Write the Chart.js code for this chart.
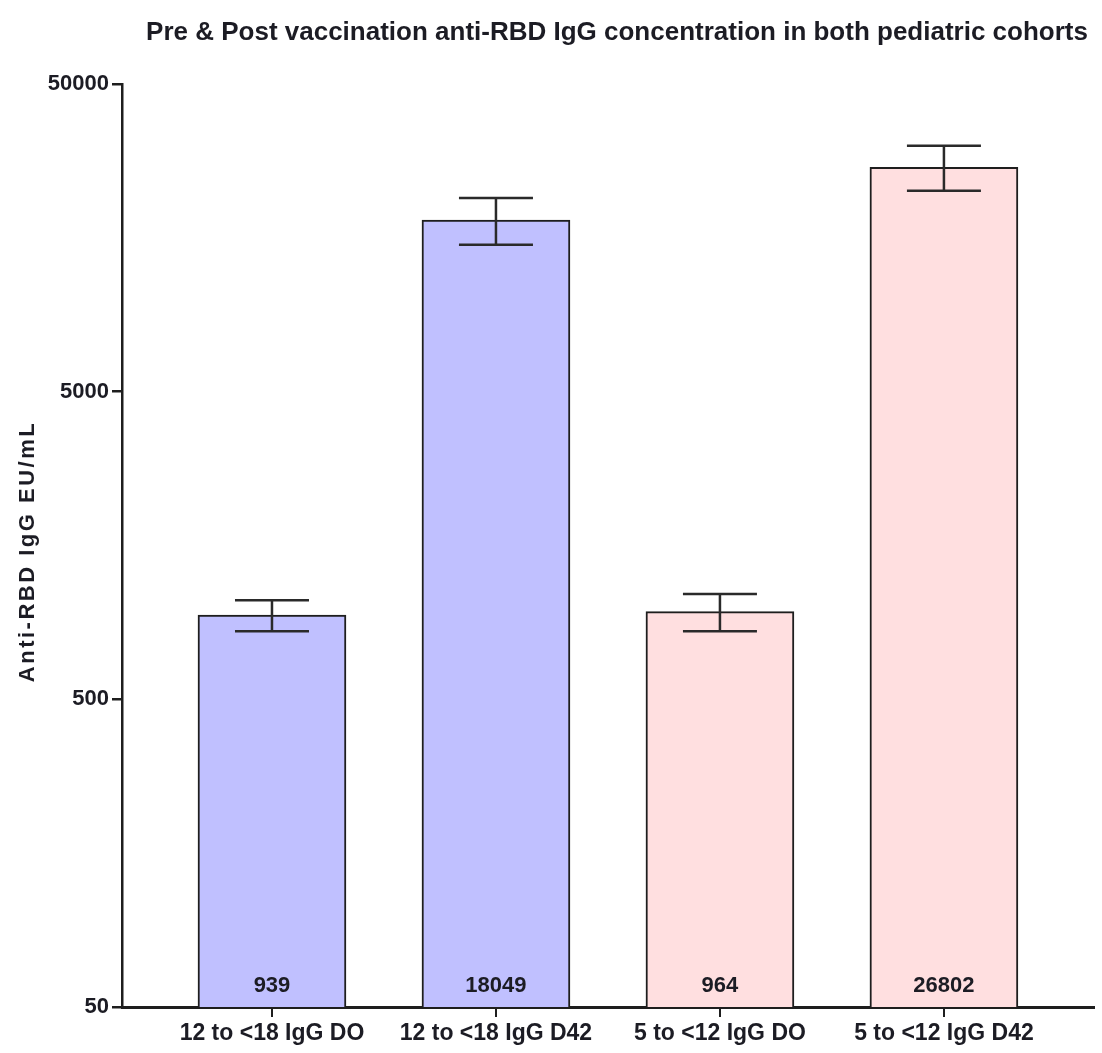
<!DOCTYPE html>
<html>
<head>
<meta charset="utf-8">
<script src="https://cdn.jsdelivr.net/npm/chart.js@4/dist/chart.umd.min.js"></script>
<style>
  html, body { margin: 0; padding: 0; background: #ffffff; }
  #wrap { width: 1102px; height: 1053px; position: relative; }
</style>
</head>
<body>
<div id="wrap"><canvas id="c"></canvas></div>
<script>
const chartTitle = 'Pre & Post vaccination anti-RBD IgG concentration in both pediatric cohorts';
const yAxisTitle = 'Anti-RBD IgG EU/mL';
const categories = ['12 to <18 IgG DO', '12 to <18 IgG D42', '5 to <12 IgG DO', '5 to <12 IgG D42'];
const values = [939, 18049, 964, 26802];
const errLow = [832, 15000, 832, 22500];
const errHigh = [1050, 21300, 1100, 31500];
const yTicks = [50, 500, 5000, 50000];
const barColors = ['#c0c0ff', '#c0c0ff', '#ffdfe0', '#ffdfe0'];

const FONT = "'Liberation Sans', Arial, sans-serif";
const INK = '#1c1c24';

const extras = {
  id: 'extras',
  afterDatasetsDraw(chart) {
    const ctx = chart.ctx;
    const y = chart.scales.y;
    const meta = chart.getDatasetMeta(0);
    ctx.save();
    meta.data.forEach((bar, i) => {
      const x = bar.x;
      const yl = y.getPixelForValue(errLow[i]);
      const yh = y.getPixelForValue(errHigh[i]);
      ctx.strokeStyle = '#2a2a2a';
      ctx.lineWidth = 2.5;
      ctx.beginPath();
      ctx.moveTo(x, yl); ctx.lineTo(x, yh);
      ctx.moveTo(x - 37, yh); ctx.lineTo(x + 37, yh);
      ctx.moveTo(x - 37, yl); ctx.lineTo(x + 37, yl);
      ctx.stroke();
      ctx.fillStyle = INK;
      ctx.font = 'bold 22px ' + FONT;
      ctx.textAlign = 'center';
      ctx.textBaseline = 'middle';
      ctx.fillText(String(values[i]), x, y.getPixelForValue(yTicks[0]) - 21);
    });
    ctx.restore();
  },
  afterDraw(chart) {
    const ctx = chart.ctx;
    const area = chart.chartArea;
    ctx.save();
    ctx.fillStyle = INK;
    ctx.font = 'bold 26px ' + FONT;
    ctx.textAlign = 'center';
    ctx.textBaseline = 'middle';
    ctx.fillText(chartTitle, 617, 33);
    ctx.translate(28, (area.top + area.bottom) / 2 + 6);
    ctx.rotate(-Math.PI / 2);
    ctx.font = 'bold 22px ' + FONT;
    try { ctx.letterSpacing = '2.5px'; } catch (e) {}
    ctx.fillText(yAxisTitle, 0, 0);
    ctx.restore();
  }
};

new Chart(document.getElementById('c'), {
  type: 'bar',
  data: {
    datasets: [{
      data: categories.map((c, i) => ({ x: i + 1, y: values[i] })),
      backgroundColor: barColors,
      borderColor: '#1e1e1e',
      borderWidth: 2,
      barThickness: 148
    }]
  },
  options: {
    responsive: true,
    maintainAspectRatio: false,
    animation: false,
    devicePixelRatio: 1,
    layout: { padding: { top: 84, right: 8, left: 0, bottom: 0 } },
    plugins: { legend: { display: false }, tooltip: { enabled: false }, title: { display: false } },
    scales: {
      x: {
        type: 'linear',
        min: 0.3304,
        max: 4.67,
        offset: false,
        afterBuildTicks(scale) { scale.ticks = categories.map((c, i) => ({ value: i + 1 })); },
        afterFit(scale) { scale.height = 46; },
        ticks: {
          autoSkip: false,
          maxRotation: 0,
          padding: 3,
          color: INK,
          font: { family: FONT, size: 23, weight: 'bold' },
          callback: (v) => categories[v - 1]
        },
        grid: { offset: false, drawOnChartArea: false, tickLength: 10, color: '#1e1e1e', lineWidth: 2 },
        border: { color: '#1e1e1e', width: 3 }
      },
      y: {
        type: 'logarithmic',
        min: 50,
        max: 50000,
        afterBuildTicks(scale) { scale.ticks = yTicks.map(v => ({ value: v })); },
        afterFit(scale) { scale.width = 122; },
        ticks: {
          color: INK,
          padding: 3,
          font: { family: FONT, size: 22, weight: 'bold' },
          callback: (v) => String(v)
        },
        grid: { drawOnChartArea: false, tickLength: 10, color: '#1e1e1e', lineWidth: 2.5 },
        border: { color: '#1e1e1e', width: 2.5 }
      }
    }
  },
  plugins: [extras]
});
</script>
</body>
</html>
